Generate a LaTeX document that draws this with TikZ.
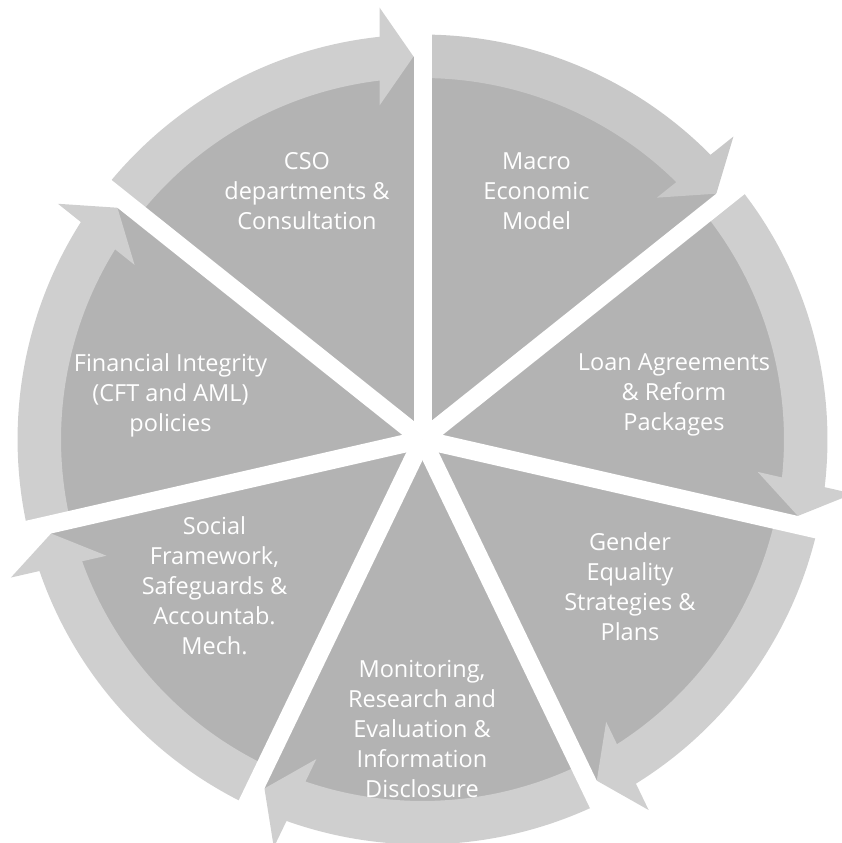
\documentclass[tikz,border=0pt]{standalone}
\usepackage{fontspec}
\setmainfont{Open Sans}
\usepackage{xcolor}
\usepackage{tikz}
\usetikzlibrary{positioning}
\definecolor{wedgegray}{HTML}{B3B3B3}
\definecolor{ringgray}{HTML}{CFCFCF}
\definecolor{ringdark}{HTML}{C8C8C8}

\begin{document}
\begin{tikzpicture}[x=1pt, y=1pt,
    segtext/.style={text=white, align=center, font=\fontsize{23.5}{30}\selectfont}]
    % Frame
    \useasboundingbox (-422.5,-403.5) rectangle (418.5,439.5);
    % Wedges and arrows
    \foreach \k/\col in {0/ringgray,1/ringdark,2/ringgray,3/ringgray,4/ringgray,5/ringgray,6/ringgray} {
        \begin{scope}[rotate=-\k*360/7]
            \fill[wedgegray] (0,0) -- (90:383) arc[start angle=90, end angle=141.43, radius=383] -- cycle;
            \fill[\col] (141.43:361.5) arc[start angle=141.43, end angle=96.83, radius=361.5]
                -- (-43,334) -- (-9,383) -- (-43,432) -- (-43,402.7)
                arc[start angle=96.1, end angle=141.43, radius=405] -- cycle;
        \end{scope}
    }
    % Gaps
    \foreach \k in {0,...,6}
        \draw[white, line width=18] (0,0) -- (90-\k*360/7:412);
    % Labels
    \node[segtext] (cso) at (-115.5,248) {CSO\\departments \&\\Consultation};
    \node[segtext] (macro) at (114,248) {Macro\\Economic\\Model};
    \node[segtext] (loan) at (251.5,44.5) {Loan Agreements\\\& Reform\\Packages};
    \node[segtext] (gender) at (207.5,-147) {Gender\\Equality\\Strategies \&\\Plans};
    \node[segtext] (monitor) at (-0.5,-289.5) {Monitoring,\\Research and\\Evaluation \&\\Information\\Disclosure};
    \node[segtext] (social) at (-208,-146.5) {Social\\Framework,\\Safeguards \&\\Accountab.\\Mech.};
    \node[segtext] (finint) at (-252,44.5) {Financial Integrity\\(CFT and AML)\\policies};
\end{tikzpicture}
\end{document}
